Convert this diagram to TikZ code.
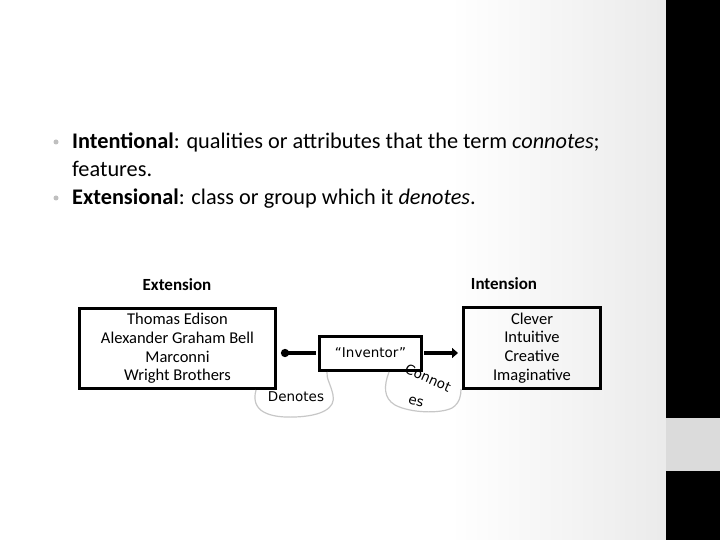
\documentclass[tikz,border=0pt]{standalone}
\usepackage{fontspec}
\setmainfont{Carlito}
\newfontfamily\calloutfont{DejaVu Sans}
\usetikzlibrary{arrows.meta,positioning,calc}

\begin{document}
\begin{tikzpicture}[x=1pt, y=-1pt,
  setbox/.style={rectangle, draw, line width=3pt, align=center, inner sep=0pt,
    font=\fontsize{16.5}{18.7}\selectfont},
  head/.style={font=\fontsize{17}{19}\selectfont\bfseries},
  line/.style={font=\fontsize{22.3}{27}\selectfont, anchor=base west, inner sep=0pt},
  dot/.style={circle, fill=black!25, inner sep=0pt, minimum size=5pt},
  arr/.style={line width=4pt},
  callout/.style={draw=black!22, line width=1.2pt},
  calltext/.style={font=\calloutfont\fontsize{13.5}{16}\selectfont, inner sep=0pt}
]

% slide background
\useasboundingbox (0,0) rectangle (720,540);
\fill[white] (0,0) rectangle (666,540);
\shade[left color=white, right color=black!8] (450,0) rectangle (666,540);
\fill[black] (666,0) rectangle (720,540);
\fill[black!14] (666,418) rectangle (720,471);

% bullets
\node[dot] (d1) at (56,142) {};
\node[line] (l1) at (72,149) {\textbf{Intentional}: qualities or attributes that the term \textit{connotes};};
\node[line] (l2) at (72,177) {features.};
\node[dot] (d2) at (56,198) {};
\node[line] (l3) at (72,205) {\textbf{Extensional}: class or group which it \textit{denotes}.};

% the three boxes
\node[setbox, minimum width=196pt, minimum height=80pt] (ext) at (177.5,348.5)
  {Thomas Edison\\Alexander Graham Bell\\Marconni\\Wright Brothers};
\node[head] (exthead) at (177,285) {Extension};
\node[setbox, minimum width=137pt, minimum height=81pt] (int) at (532,348)
  {Clever\\Intuitive\\Creative\\Imaginative};
\node[head] (inthead) at (504,284) {Intension};
\node[setbox, font=\calloutfont\fontsize{13.5}{16}\selectfont,
  minimum width=102pt, minimum height=34pt] (inv) at (370.5,353) {“Inventor”};

\draw[arr, -{Circle[length=8pt]}, shorten >=4pt, shorten <=2pt]
  (inv.west) -- (inv.west -| ext.east);
\draw[arr, -{Triangle[length=6pt,width=10pt]}, shorten >=4pt, shorten <=1pt]
  (inv.east) -- (inv.east -| int.west);

% callouts
\draw[callout] (256,390) .. controls (250,412) and (270,418) .. (295,417)
  .. controls (322,416) and (336,408) .. (333,395)
  .. controls (331,385) and (326,378) .. (327,372);
\node[calltext] (den) at (296,397) {Denotes};
\draw[callout] (389,372) .. controls (384,385) and (383,398) .. (395,405)
  .. controls (410,413) and (440,414) .. (452,408)
  .. controls (460,403) and (461,395) .. (461,389);
\node[calltext, rotate=-24] (con) at (428,378) {Connot};
\node[calltext, rotate=-15] (con2) at (416,402) {es};

\end{tikzpicture}
\end{document}
